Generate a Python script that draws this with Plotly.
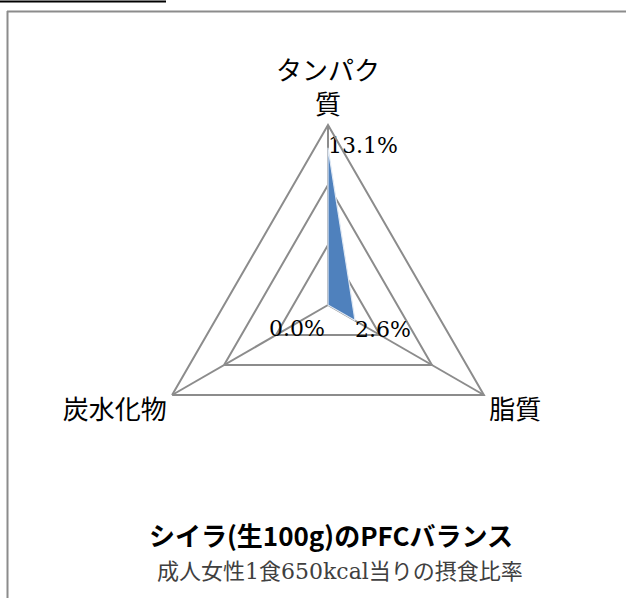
import plotly.graph_objects as go

categories = ["タンパク<br>質", "脂質", "炭水化物"]
values = [13.1, 2.6, 0.0]
value_labels = ["13.1%", "2.6%", "0.0%"]
label_positions = ["middle right", "bottom right", "bottom left"]
title_text = "シイラ(生100g)のPFCバランス"
subtitle_text = "成人女性1食650kcal当りの摂食比率"

W, H = 626, 598
GRAY = "#8c8c8c"
LABEL_FONT = dict(family="DejaVu Serif, Liberation Serif, serif", size=22, color="#000000")

fig = go.Figure()
fig.add_trace(go.Scatterpolar(
    r=values + [values[0]],
    theta=categories + [categories[0]],
    mode="lines",
    fill="toself",
    fillcolor="#4F81BD",
    line=dict(color="#dfe8f3", width=1.2),
    hoverinfo="skip",
    showlegend=False,
))

# value labels for non-zero points
fig.add_trace(go.Scatterpolar(
    r=values,
    theta=categories,
    mode="text",
    text=[lab if v != 0 else "" for v, lab in zip(values, value_labels)],
    textposition=label_positions,
    textfont=LABEL_FONT,
    cliponaxis=False,
    hoverinfo="skip",
    showlegend=False,
))

cx, cy, R = 328, 305, 180

# plotly hides text drawn exactly at the polar centre, so zero-value labels
# are placed as annotations at the centre of the polar domain
zero_annotations = [
    dict(text=lab, xref="paper", yref="paper", x=cx / W, y=1 - cy / H,
         xanchor="right", yanchor="top", xshift=-1, yshift=-9, showarrow=False,
         font=LABEL_FONT)
    for v, lab in zip(values, value_labels) if v == 0
]

fig.update_layout(
    width=W, height=H,
    margin=dict(l=0, r=0, t=0, b=0),
    paper_bgcolor="white",
    plot_bgcolor="white",
    font=dict(family="Noto Sans CJK JP, sans-serif", color="#000000"),
    polar=dict(
        domain=dict(x=[(cx - R) / W, (cx + R) / W], y=[(H - cy - R) / H, (H - cy + R) / H]),
        bgcolor="white",
        gridshape="linear",
        angularaxis=dict(
            rotation=90, direction="clockwise",
            showline=True, linecolor=GRAY, linewidth=2,
            showgrid=True, gridcolor=GRAY, gridwidth=2,
            ticks="", tickfont=dict(size=26, family="Noto Sans CJK JP, sans-serif", color="#000000"),
        ),
        radialaxis=dict(
            range=[0, 15], tick0=0, dtick=5, showticklabels=False, ticks="",
            showline=False, showgrid=True, gridcolor=GRAY, gridwidth=2,
        ),
    ),
    shapes=[
        dict(type="line", xref="paper", yref="paper", x0=0, x1=166 / W, y0=1 - 1.5 / H, y1=1 - 1.5 / H,
             line=dict(color="black", width=2)),
        dict(type="line", xref="paper", yref="paper", x0=7 / W, x1=1, y0=1 - 11.5 / H, y1=1 - 11.5 / H,
             line=dict(color=GRAY, width=2)),
        dict(type="line", xref="paper", yref="paper", x0=7.5 / W, x1=7.5 / W, y0=0, y1=1 - 11 / H,
             line=dict(color=GRAY, width=2)),
    ],
    annotations=zero_annotations + [
        dict(text="<b>" + title_text + "</b>", xref="paper", yref="paper", x=331 / W, y=1 - 534 / H,
             showarrow=False, xanchor="center", yanchor="middle",
             font=dict(size=26, family="Noto Sans CJK JP, sans-serif", color="#000000")),
        dict(text=subtitle_text, xref="paper", yref="paper", x=340 / W, y=1 - 571 / H,
             showarrow=False, xanchor="center", yanchor="middle",
             font=dict(size=22, family="DejaVu Serif, Noto Sans CJK JP, serif", color="#404040")),
    ],
)

fig.write_html("out.html")
